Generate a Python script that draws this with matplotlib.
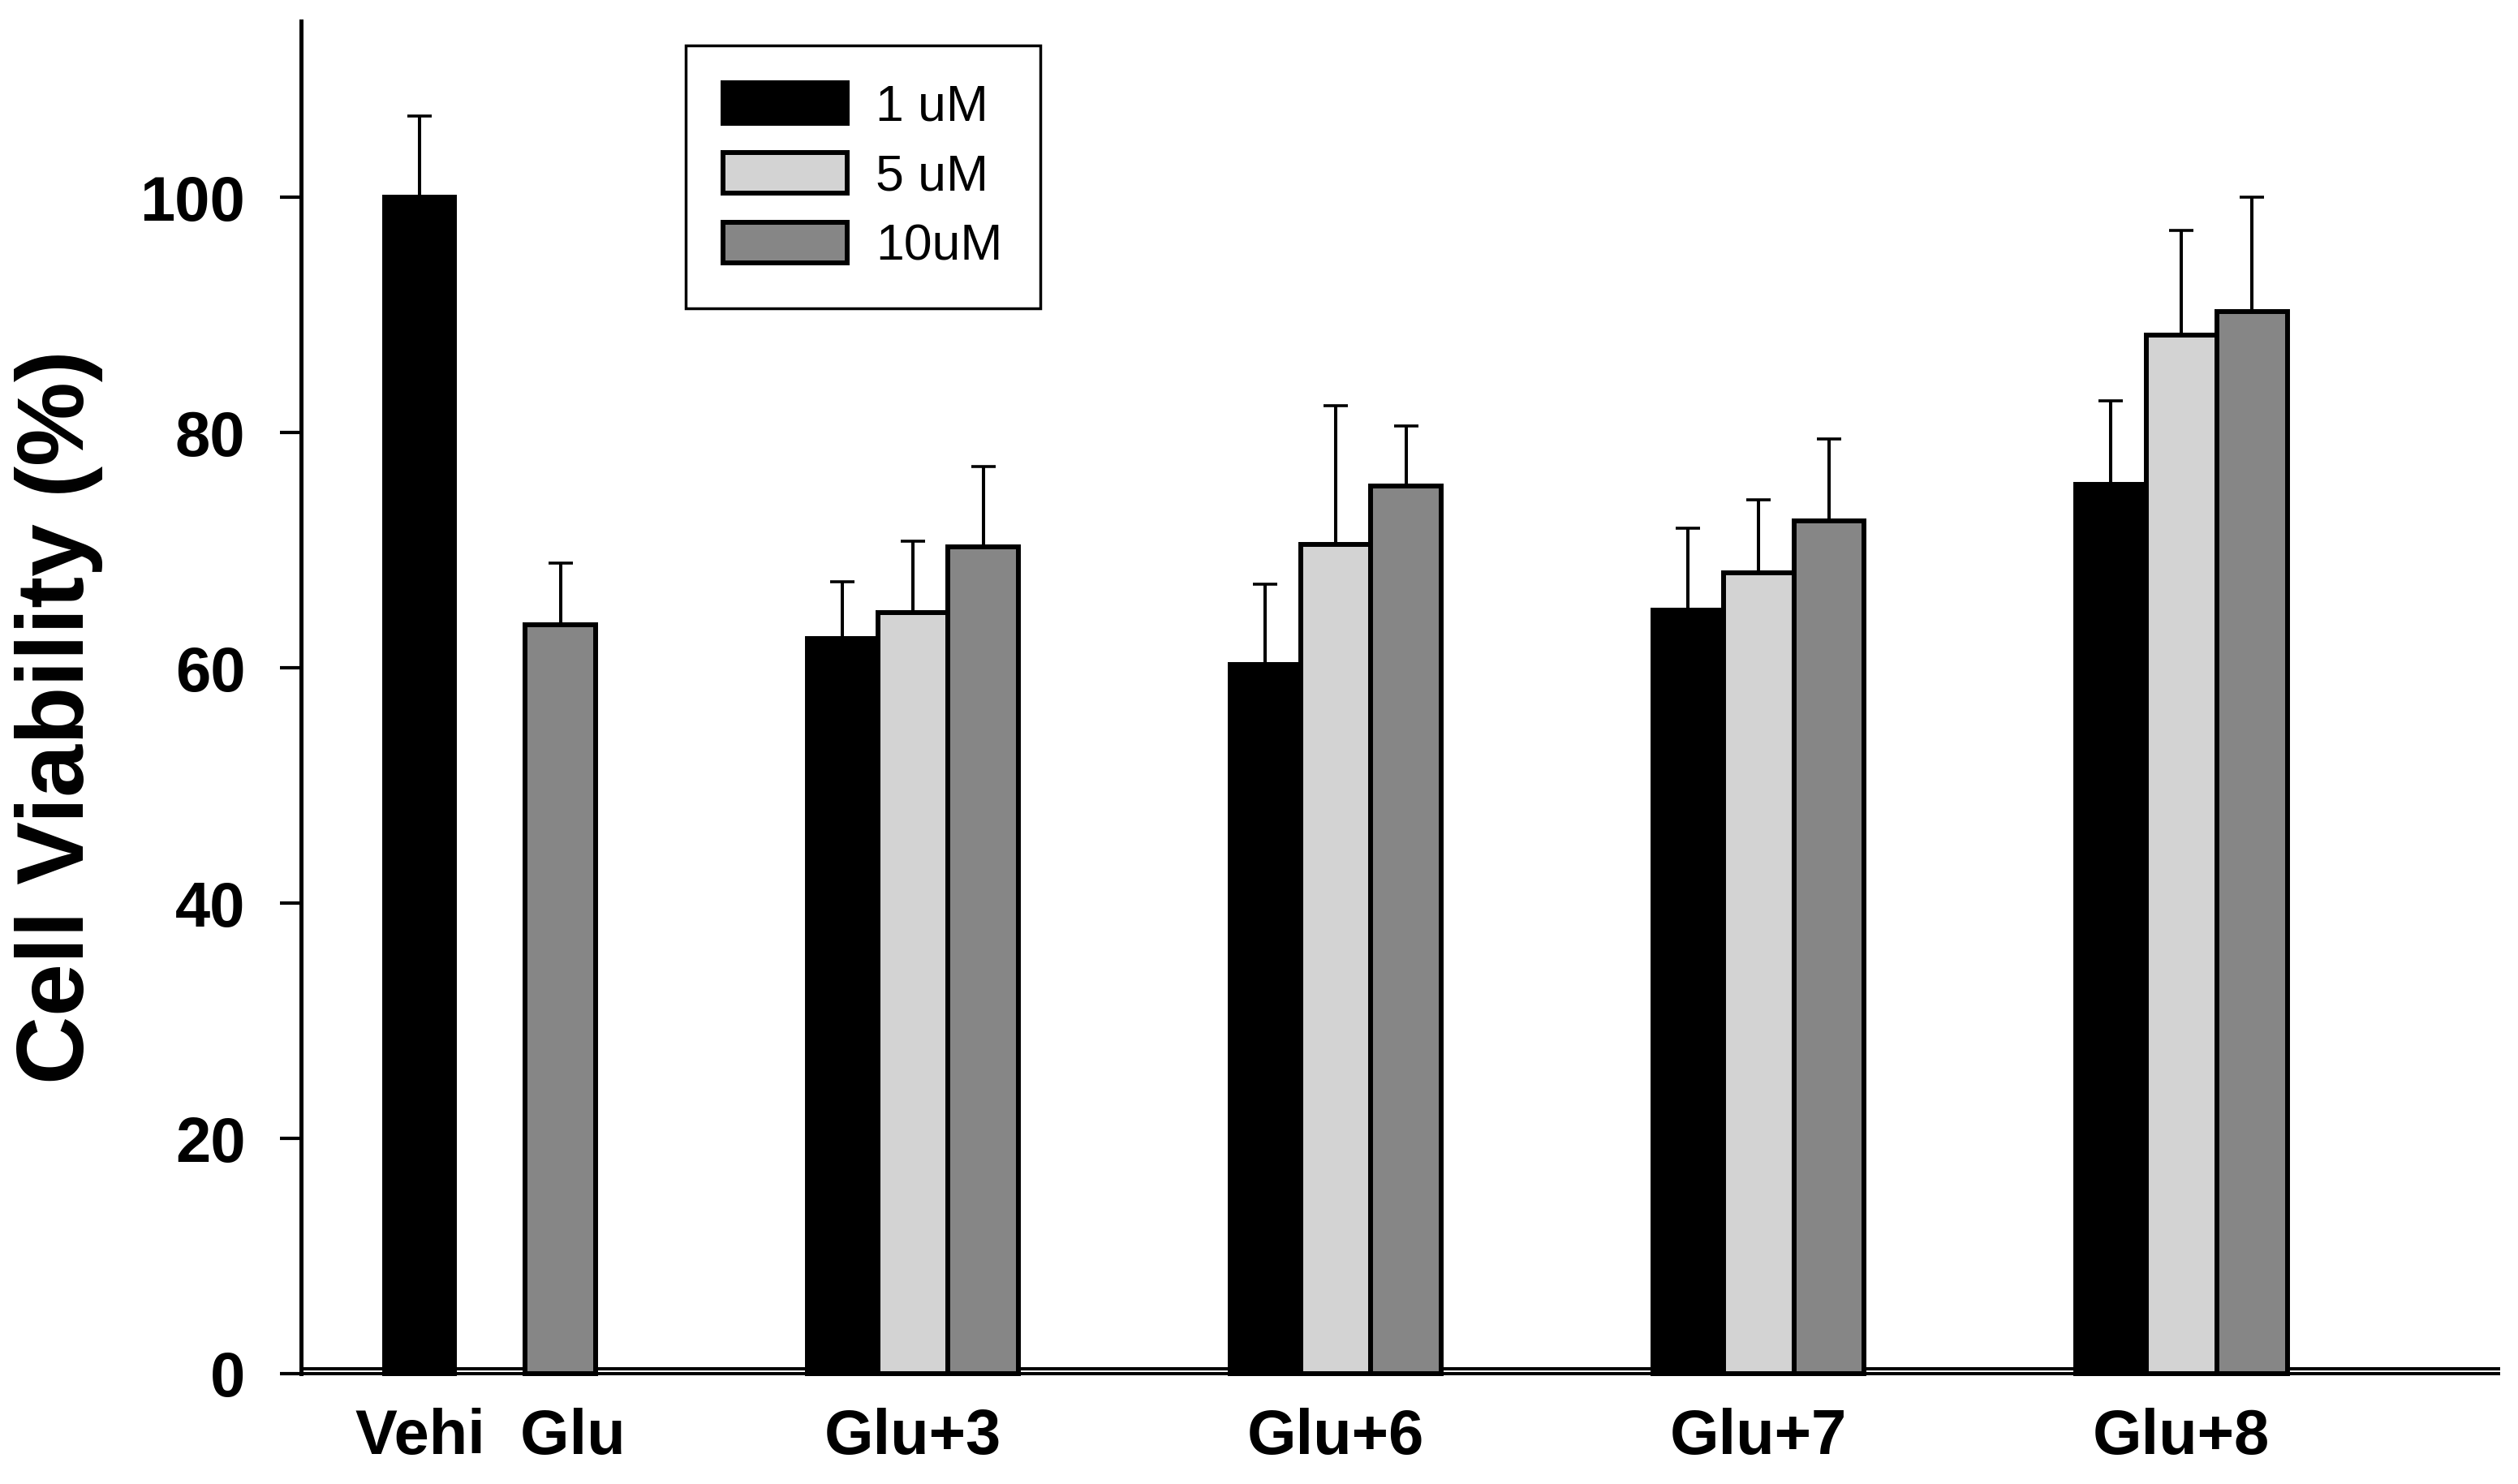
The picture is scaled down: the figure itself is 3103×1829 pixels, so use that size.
import numpy as np
import matplotlib
matplotlib.use('Agg')
import matplotlib.pyplot as plt

plt.rcParams['font.family'] = ['Liberation Sans', 'DejaVu Sans']

# data
ctrl_names = ['Vehi', 'Glu']
ctrl_values = [100.0, 63.7]
ctrl_err = [6.9, 5.2]

groups = ['Vehi  Glu', 'Glu+3', 'Glu+6', 'Glu+7', 'Glu+8']
doses = ['1 uM', '5 uM', '10uM']
uM1 = [62.5, 60.3, 64.9, 75.6]
uM5 = [64.7, 70.5, 68.1, 88.3]
uM10 = [70.3, 75.5, 72.5, 90.3]
err1 = [4.8, 6.8, 7.0, 7.1]
err5 = [6.1, 11.8, 6.2, 8.9]
err10 = [6.8, 5.1, 7.0, 9.7]

colors = ['#000000', '#D3D3D3', '#868686']

# figure
fig = plt.figure(figsize=(31.03, 18.29), dpi=100)
ax = fig.add_axes([0.1197, 0.0744, 0.8726, 0.9114])

w = 1 / 6
err_style = dict(elinewidth=2.9, capsize=11, capthick=2.6, ecolor='black')
bar_style = dict(width=w, edgecolor='black', linewidth=4.3, clip_on=False, zorder=3)

# Vehi / Glu controls sit in the first slot
ax.bar([-w, w], ctrl_values, color=[colors[0], colors[2]],
       yerr=[np.zeros(2), ctrl_err], error_kw=err_style, **bar_style)

# treated groups
x = np.arange(1, len(groups))
handles = []
for i, (vals, errs) in enumerate([(uM1, err1), (uM5, err5), (uM10, err10)]):
    b = ax.bar(x + (i - 1) * w, vals, color=colors[i], label=doses[i],
               yerr=[np.zeros(len(vals)), errs], error_kw=err_style, **bar_style)
    handles.append(b)

ax.set_xlim(-0.446, 4.75)
ax.set_ylim(0, 115)

# axes styling
for s in ['top', 'right', 'bottom']:
    ax.spines[s].set_visible(False)
ax.spines['left'].set_linewidth(3.6)
ax.axhline(0, color='black', lw=2.9, clip_on=False, zorder=2)
ax.axhline(0.39, color='black', lw=2.9, clip_on=False, zorder=2)

ax.set_yticks([0, 20, 40, 60, 80, 100])
ax.tick_params(axis='y', direction='out', length=18.7, width=3, pad=31,
               labelsize=56)
ax.set_xticks(np.arange(len(groups)))
ax.set_xticklabels(groups)
ax.tick_params(axis='x', length=0, pad=30, labelsize=56)
for lab in ax.get_xticklabels() + ax.get_yticklabels():
    lab.set_fontweight('bold')

fig.text(0.0235, 0.5167, 'Cell Viability (%)', rotation=90, ha='center',
         va='center', fontsize=84, fontweight='bold')

leg = ax.legend(handles=handles, loc='upper left',
                bbox_to_anchor=(845 / 3103, 1 - 56 / 1829),
                bbox_transform=fig.transFigure, fontsize=45,
                handlelength=2.45, handleheight=0.85, handletextpad=0.56,
                labelspacing=0.42, borderpad=0.74, borderaxespad=0,
                fancybox=False, framealpha=1)
leg.get_frame().set_edgecolor('black')
leg.get_frame().set_linewidth(2.5)

fig.savefig('out.png', dpi=100)
